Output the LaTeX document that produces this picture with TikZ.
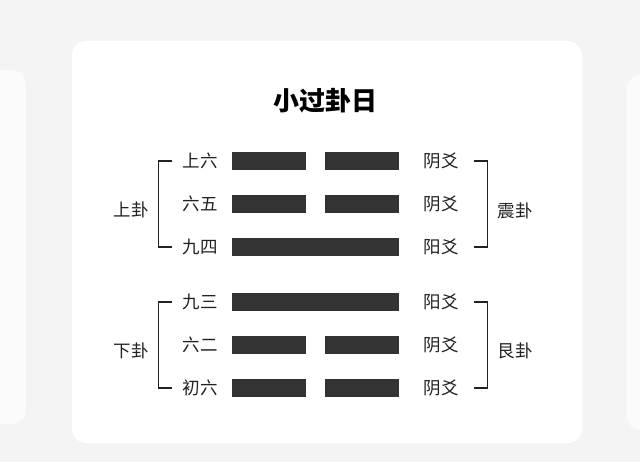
\documentclass[tikz,border=0pt]{standalone}
\usepackage{fontspec}
\setmainfont{Noto Sans CJK SC}
\usetikzlibrary{positioning}

\definecolor{pagegray}{HTML}{F4F4F4}
\definecolor{cardwhite}{HTML}{FFFFFF}
\definecolor{barblack}{HTML}{333333}
\definecolor{inkgray}{HTML}{222222}

\tikzset{
  yangbar/.style={fill=barblack, inner sep=0, minimum width=167pt, minimum height=18pt},
  yinbar/.style={fill=barblack, inner sep=0, minimum width=74pt, minimum height=18pt},
  yaoname/.style={text=inkgray, inner sep=0, font=\fontsize{17.5}{17.5}\selectfont},
  guaname/.style={text=inkgray, inner sep=0, font=\fontsize{17.5}{17.5}\selectfont},
  bracket/.style={draw=inkgray, line width=1.1pt},
}

\begin{document}
\begin{tikzpicture}[x=1pt, y=-1pt]
		\fill [pagegray] (0, 0) rectangle (640, 462);
		\useasboundingbox (0, 0) rectangle (640, 462);

		% side cards and main card
		\fill [cardwhite!60!pagegray, rounded corners=14] (-30, 70) rectangle (26, 424);
		\fill [cardwhite!60!pagegray, rounded corners=14] (627, 75) rectangle (690, 430);
		\fill [cardwhite, rounded corners=14] (72, 41) rectangle (582, 443);

		\node (title) at (325, 101) [text=black, font=\fontsize{26}{26}\selectfont\bfseries] {小过卦日};

		% upper trigram
		\node (b6l) at (269, 161) [yinbar] {};
		\node (b6r) at (362, 161) [yinbar] {};
		\node (b5l) at (269, 204) [yinbar] {};
		\node (b5r) at (362, 204) [yinbar] {};
		\node (b4) at (315.5, 247) [yangbar] {};
		% lower trigram
		\node (b3) at (315.5, 302) [yangbar] {};
		\node (b2l) at (269, 345) [yinbar] {};
		\node (b2r) at (362, 345) [yinbar] {};
		\node (b1l) at (269, 388) [yinbar] {};
		\node (b1r) at (362, 388) [yinbar] {};

		% line names
		\node (n6) at (200, 161) [yaoname] {上六};
		\node (n5) at (200, 204) [yaoname] {六五};
		\node (n4) at (200, 247) [yaoname] {九四};
		\node (n3) at (200, 302) [yaoname] {九三};
		\node (n2) at (200, 345) [yaoname] {六二};
		\node (n1) at (200, 388) [yaoname] {初六};

		\node (y6) at (441, 161) [yaoname] {阴爻};
		\node (y5) at (441, 204) [yaoname] {阴爻};
		\node (y4) at (441, 247) [yaoname] {阳爻};
		\node (y3) at (441, 302) [yaoname] {阳爻};
		\node (y2) at (441, 345) [yaoname] {阴爻};
		\node (y1) at (441, 388) [yaoname] {阴爻};

		% brackets
		\draw [bracket] ([xshift=-10]n6.west) -- ++(-14, 0) |- ([xshift=-10]n4.west);
		\draw [bracket] ([xshift=-10]n3.west) -- ++(-14, 0) |- ([xshift=-10]n1.west);
		\draw [bracket] ([xshift=15]y6.east) -- ++(14, 0) |- ([xshift=15]y4.east);
		\draw [bracket] ([xshift=15]y3.east) -- ++(14, 0) |- ([xshift=15]y1.east);

		\node (upper) at (131, 210) [guaname] {上卦};
		\node (lower) at (131, 351) [guaname] {下卦};
		\node (zhen) at (515, 211) [guaname] {震卦};
		\node (gen) at (515, 351) [guaname] {艮卦};
	\end{tikzpicture}
\end{document}
